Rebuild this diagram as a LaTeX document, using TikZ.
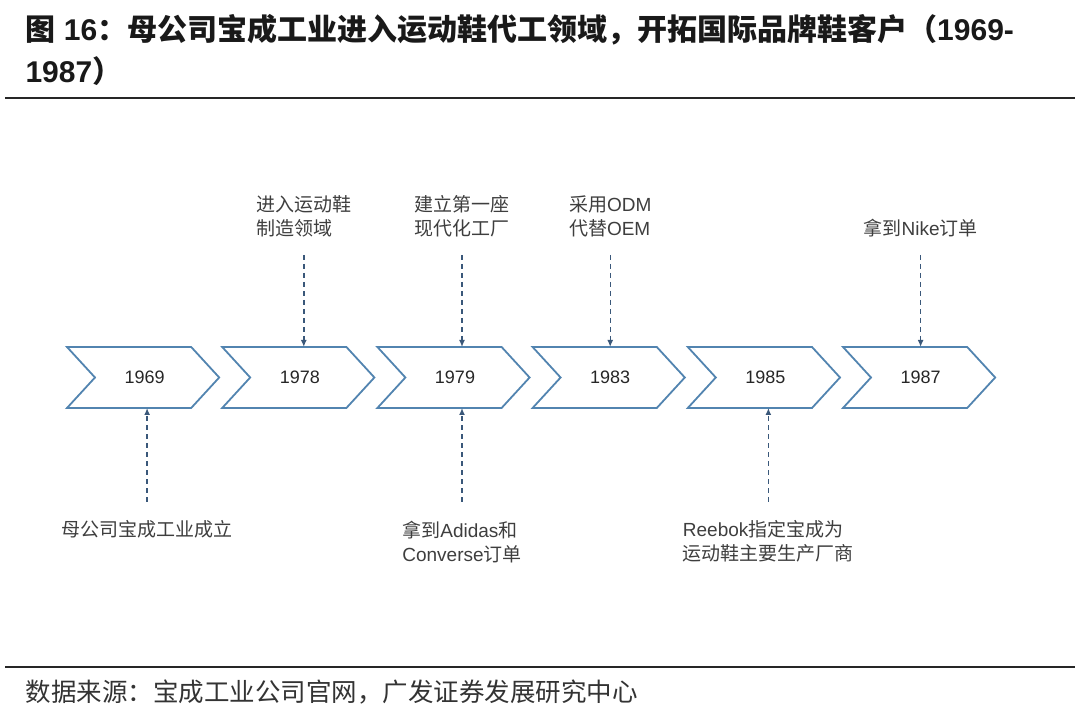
\documentclass[tikz,border=0pt]{standalone}
\usepackage{fontspec}
\setmainfont{Liberation Sans}
\newfontfamily\cjk{Noto Sans CJK SC}
\newcommand{\zh}[1]{{\cjk #1}}
\usetikzlibrary{positioning,arrows.meta}
\definecolor{chevblue}{RGB}{82,132,176}
\definecolor{arrowblue}{RGB}{58,88,122}
\definecolor{labelgray}{RGB}{62,62,62}

\begin{document}
\begin{tikzpicture}[x=1pt,y=1pt,
		year/.style={minimum width=155.2pt,minimum height=61pt,inner sep=0pt,outer sep=0pt,
			font=\fontsize{18}{22}\selectfont,text=black!85},
		chev/.style={draw=chevblue,line width=1.8pt,line join=miter},
		conn/.style={draw=arrowblue,line width=1.4pt,dash pattern=on 5pt off 4pt,
			-{Latex[length=7pt,width=6pt]}},
		note/.style={inner sep=0pt,align=left,text=labelgray,font=\fontsize{19}{24}\selectfont},
		rule/.style={line width=1.5pt,black!85}
		]
		\useasboundingbox (0,0) rectangle (1080,717);
		
		% title and source
		\node[anchor=base west,font=\fontsize{30}{36}\selectfont\bfseries,text=black!90] (title) at (22,676)
		{\zh{图} 16\zh{：母公司宝成工业进入运动鞋代工领域，开拓国际品牌鞋客户（}1969-};
		\node[anchor=base west,font=\fontsize{30}{36}\selectfont\bfseries,text=black!90] (title2) at (22,634)
		{1987\zh{）}};
		\draw[rule] (5,619) -- (1075,619);
		\draw[rule] (5,50) -- (1075,50);
		\node[anchor=base west,font=\fontsize{25.5}{30}\selectfont,text=black!80] (src) at (22,15.5)
		{\zh{数据来源：宝成工业公司官网，广发证券发展研究中心}};
		
		% timeline
		\node[year] (y1969) at (144.6,339.5) {1969};
		\node[year,right=0pt of y1969] (y1978) {1978};
		\node[year,right=0pt of y1978] (y1979) {1979};
		\node[year,right=0pt of y1979] (y1983) {1983};
		\node[year,right=0pt of y1983] (y1985) {1985};
		\node[year,right=0pt of y1985] (y1987) {1987};
		\foreach \n in {y1969,y1978,y1979,y1983,y1985,y1987}
		\draw[chev] (\n.north west) -- ([xshift=-31pt]\n.north east) -- ([xshift=-3pt]\n.east)
		-- ([xshift=-31pt]\n.south east) -- (\n.south west) -- ([xshift=28pt]\n.west) -- cycle;
		
		% events above
		\coordinate[above=92pt of y1978.north,xshift=4pt] (t1978);
		\coordinate[above=92pt of y1979.north,xshift=7pt] (t1979);
		\coordinate[above=92pt of y1983.north] (t1983);
		\coordinate[above=92pt of y1987.north] (t1987);
		\foreach \n/\y in {t1978/y1978,t1979/y1979,t1983/y1983,t1987/y1987}
		\draw[conn] (\n) -- (\n |- \y.north);
		\node[note,above=17.5pt of t1978] (n1978) {\zh{进入运动鞋}\\\zh{制造领域}};
		\node[note,above=17.5pt of t1979] (n1979) {\zh{建立第一座}\\\zh{现代化工厂}};
		\node[note,above=17.5pt of t1983] (n1983) {\zh{采用}ODM\\\zh{代替}OEM};
		\node[note,above=17.5pt of t1987] (n1987) {\zh{拿到}Nike\zh{订单}};
		
		% events below
		\coordinate[below=94pt of y1969.south,xshift=2.5pt] (b1969);
		\coordinate[below=94pt of y1979.south,xshift=7pt] (b1979);
		\coordinate[below=94pt of y1985.south,xshift=3pt] (b1985);
		\foreach \n/\y in {b1969/y1969,b1979/y1979,b1985/y1985}
		\draw[conn] (\n) -- (\n |- \y.south);
		\node[note,below=18.5pt of b1969] (m1969) {\zh{母公司宝成工业成立}};
		\node[note,below=18.5pt of b1979] (m1979) {\zh{拿到}Adidas\zh{和}\\Converse\zh{订单}};
		\node[note,below=18.5pt of b1985] (m1985) {Reebok\zh{指定宝成为}\\\zh{运动鞋主要生产厂商}};
\end{tikzpicture}
\end{document}
